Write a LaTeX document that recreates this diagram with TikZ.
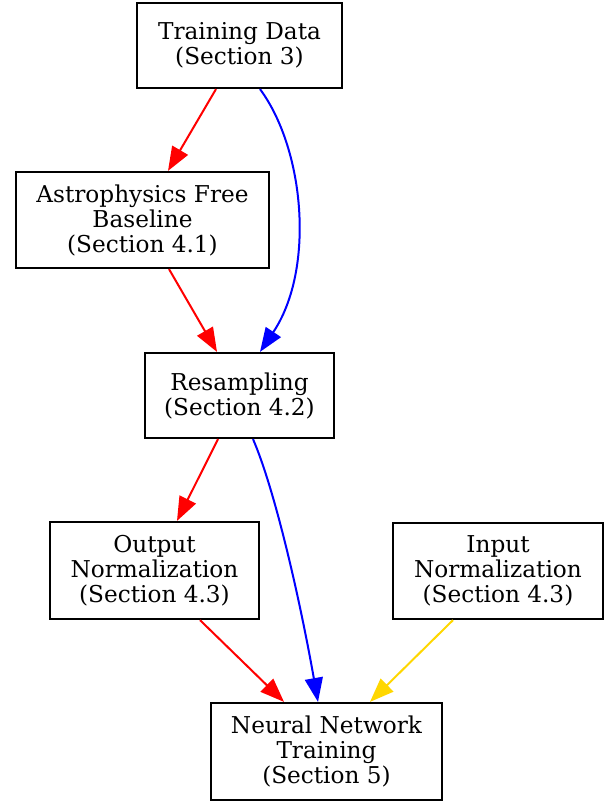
\documentclass[tikz,border=0pt]{standalone}
\usepackage{fontspec}
\setmainfont{DejaVu Serif}
\usetikzlibrary{arrows.meta}
\definecolor{gvred}{HTML}{FF0000}
\definecolor{gvblue}{HTML}{0000FF}
\definecolor{gvgold}{HTML}{FFD700}
\begin{document}
\begin{tikzpicture}[x=1pt,y=-1pt,
  box/.style={draw=black, line width=2.2pt, rectangle, inner sep=0pt, align=center,
    font=\fontsize{23.2}{25}\selectfont},
  edge/.style={line width=2pt, -{Triangle[length=24pt,width=18pt]}}]
\useasboundingbox (0,0) rectangle (612,802);
\node[box, minimum width=205pt, minimum height=85pt] (td) at (239.5,45.5) {Training Data\\(Section 3)};
\node[box, minimum width=253pt, minimum height=96pt] (af) at (142.5,220) {Astrophysics Free\\Baseline\\(Section 4.1)};
\node[box, minimum width=189pt, minimum height=85pt] (rs) at (239.5,395.5) {Resampling\\(Section 4.2)};
\node[box, minimum width=209pt, minimum height=97pt] (on) at (154.5,570.5) {Output\\Normalization\\(Section 4.3)};
\node[box, minimum width=210pt, minimum height=96pt] (in) at (498,571) {Input\\Normalization\\(Section 4.3)};
\node[box, minimum width=231pt, minimum height=97pt] (nn) at (326.5,751.5) {Neural Network\\Training\\(Section 5)};
\draw[edge, gvred] ([xshift=-23.5pt]td.south) -- ([xshift=25.5pt]af.north);
\draw[edge, gvblue] ([xshift=20.5pt]td.south) .. controls (305,150) and (315,270) .. ([xshift=20.5pt]rs.north);
\draw[edge, gvred] ([xshift=26.5pt]af.south) -- ([xshift=-22.5pt]rs.north);
\draw[edge, gvred] ([xshift=-21.5pt]rs.south) -- ([xshift=22.5pt]on.north);
\draw[edge, gvblue] ([xshift=13.5pt]rs.south) .. controls (275,490) and (300,600) .. ([xshift=-8.5pt]nn.north);
\draw[edge, gvred] ([xshift=45.5pt]on.south) -- ([xshift=-42.5pt]nn.north);
\draw[edge, gvgold] ([xshift=-45pt]in.south) -- ([xshift=43.5pt]nn.north);
\end{tikzpicture}
\end{document}
